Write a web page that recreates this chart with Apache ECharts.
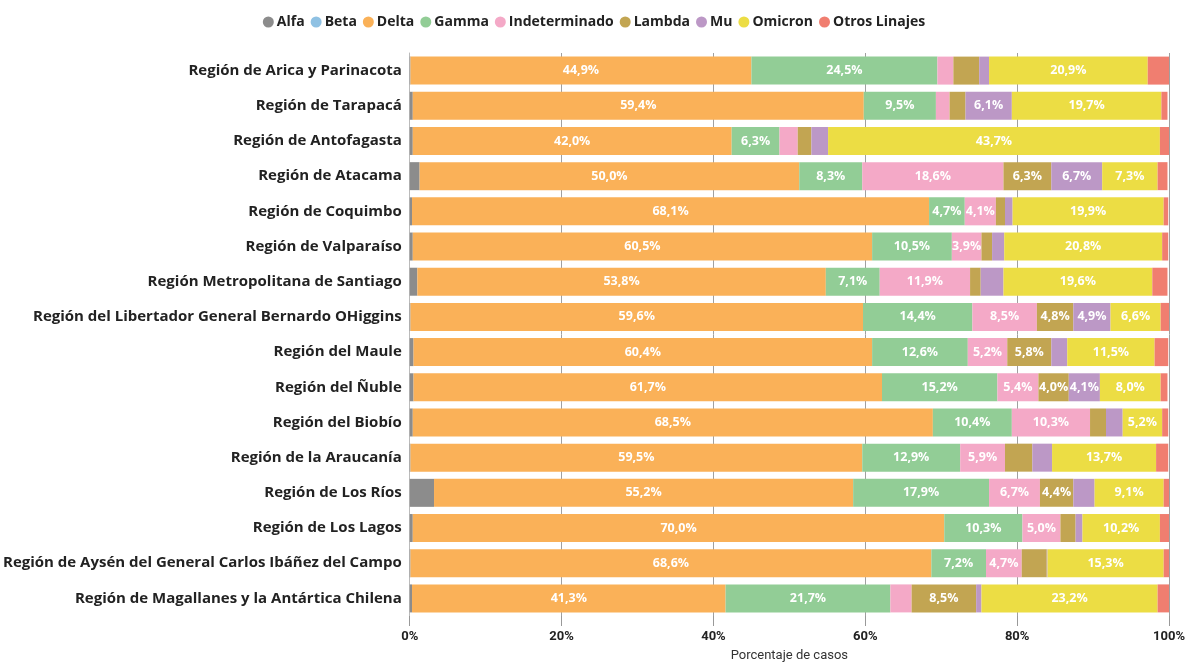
<!DOCTYPE html>
<html><head><meta charset="utf-8">
<script src="https://cdn.jsdelivr.net/npm/echarts@6/dist/echarts.min.js"></script>
<style>html,body{margin:0;padding:0;background:#fff}#c{width:1188px;height:667px}</style>
</head><body><div id="c"></div>
<script>
const regions = [
  "Región de Arica y Parinacota","Región de Tarapacá","Región de Antofagasta","Región de Atacama",
  "Región de Coquimbo","Región de Valparaíso","Región Metropolitana de Santiago",
  "Región del Libertador General Bernardo OHiggins","Región del Maule","Región del Ñuble",
  "Región del Biobío","Región de la Araucanía","Región de Los Ríos","Región de Los Lagos",
  "Región de Aysén del General Carlos Ibáñez del Campo","Región de Magallanes y la Antártica Chilena"
];
const lineages = ["Alfa","Beta","Delta","Gamma","Indeterminado","Lambda","Mu","Omicron","Otros Linajes"];
const alfa     = [0.1,0.4,0.4,1.3,0.3,0.4,1.0,0.1,0.5,0.5,0.4,0.1,3.2,0.4,0.1,0.3];
const beta     = [0,0,0,0,0,0,0,0,0,0,0,0,0,0,0,0];
const delta    = [44.9,59.4,42.0,50.0,68.1,60.5,53.8,59.6,60.4,61.7,68.5,59.5,55.2,70.0,68.6,41.3];
const gamma    = [24.5,9.5,6.3,8.3,4.7,10.5,7.1,14.4,12.6,15.2,10.4,12.9,17.9,10.3,7.2,21.7];
const indet    = [2.1,1.8,2.4,18.6,4.1,3.9,11.9,8.5,5.2,5.4,10.3,5.9,6.7,5.0,4.7,2.8];
const lambda   = [3.4,2.1,1.8,6.3,1.2,1.4,1.4,4.8,5.8,4.0,2.1,3.6,4.4,2.0,3.3,8.5];
const mu       = [1.3,6.1,2.2,6.7,1.0,1.6,3.0,4.9,2.1,4.1,2.2,2.6,2.8,0.9,0.1,0.7];
const omicron  = [20.9,19.7,43.7,7.3,19.9,20.8,19.6,6.6,11.5,8.0,5.2,13.7,9.1,10.2,15.3,23.2];
const otros    = [2.8,0.8,1.2,1.3,0.6,0.8,2.0,1.1,1.8,0.9,0.8,1.6,0.7,1.2,0.7,1.7];
const xTicks   = ["0%","20%","40%","60%","80%","100%"];
const colors = ["#8c8c8c","#8fc1e3","#fab158","#92cd96","#f4a9c7","#c2a552","#bc98c6","#ecdd44","#f07e70"];
const seriesData = [alfa,beta,delta,gamma,indet,lambda,mu,omicron,otros];

const FONT = "'Open Sans', 'Noto Sans', sans-serif";
const NARROW = "'Liberation Sans Narrow', 'Roboto', sans-serif";
const chart = echarts.init(document.getElementById('c'));
chart.setOption({
  animation:false,
  textStyle:{fontFamily:FONT},
  legend:{
    top:10, left:'center', icon:'circle', itemWidth:11, itemHeight:11, itemGap:6,
    textStyle:{fontSize:14, fontWeight:'bold', color:'#222', fontFamily:FONT, padding:[0,0,0,-2]},
    data:lineages
  },
  grid:{left:409, right:19, top:53, bottom:49, containLabel:false},
  xAxis:{
    type:'value', min:0, max:100, interval:20,
    axisLabel:{formatter:v=>xTicks[v/20], fontSize:13, fontWeight:'bold', color:'#222', margin:14, fontFamily:NARROW},
    axisLine:{show:false},
    axisTick:{show:true, length:10, lineStyle:{color:'#999'}},
    splitLine:{show:true, lineStyle:{color:'#a0a0a0', width:1}},
    name:'Porcentaje de casos', nameLocation:'middle', nameGap:33,
    nameTextStyle:{fontSize:13, color:'#333', fontFamily:NARROW}
  },
  yAxis:{
    type:'category', data:regions, inverse:true,
    axisLine:{show:true, lineStyle:{color:'#bbb'}},
    axisTick:{show:false},
    axisLabel:{fontSize:15, fontWeight:'bold', color:'#222', margin:8, fontFamily:FONT}
  },
  series: lineages.map((name,i)=>({
    name, type:'bar', stack:'total', barWidth:28,
    itemStyle:{color:colors[i]},
    label:{
      show:true, position:'inside', color:'#fff', fontSize:12.5, fontWeight:'bold', fontFamily:FONT,
      formatter:p=> p.value>=3.8 ? p.value.toFixed(1).replace('.',',')+'%' : ''
    },
    data:seriesData[i]
  }))
});
</script></body></html>
